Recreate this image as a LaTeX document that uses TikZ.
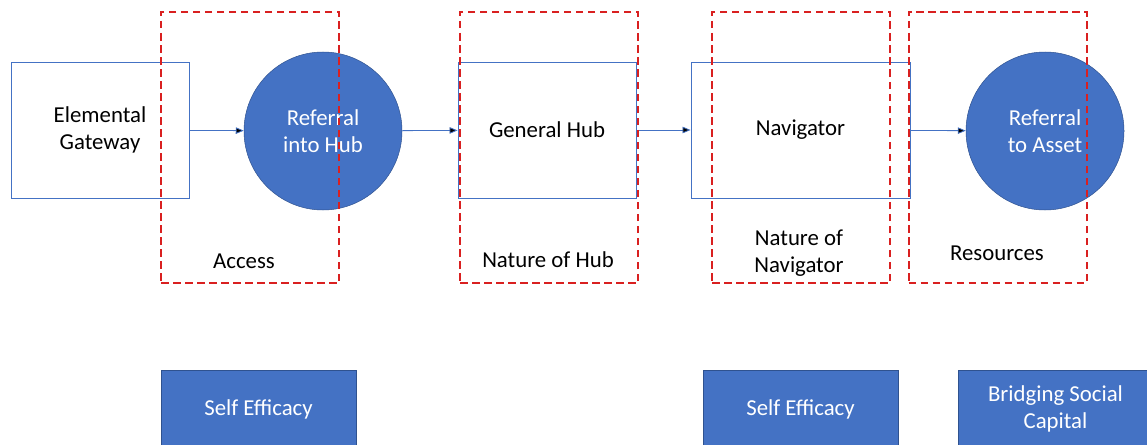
\documentclass[tikz,border=0pt]{standalone}
\usepackage{fontspec}
\setmainfont{Carlito}
\usetikzlibrary{arrows.meta}
\definecolor{hubblue}{HTML}{4472C4}
\definecolor{rimblue}{HTML}{2F528F}
\definecolor{zonered}{HTML}{D92020}
\begin{document}
\begin{tikzpicture}[x=1pt, y=-1pt,
    every node/.style={align=center, inner sep=0pt, font=\fontsize{22.8}{27.5}\selectfont},
    frame/.style={draw=hubblue, line width=0.9pt, minimum height=136pt},
    blob/.style={circle, fill=hubblue, draw=rimblue, line width=0.5pt, minimum size=158pt, text=white},
    zone/.style={draw=zonered, line width=2pt, dash pattern=on 7.5pt off 4.5pt, minimum width=178pt, minimum height=271pt},
    tag/.style={fill=hubblue, draw=rimblue, line width=0.5pt, minimum width=195pt, minimum height=78pt, text=white},
    link/.style={draw=hubblue, line width=0.8pt, -{Triangle[length=8pt, width=6.5pt]}}]
      \clip (0,0) rectangle (1147,444);
      \node (1) at (100,130) [frame, minimum width=178pt] {Elemental\\Gateway};
      \node (2) at (323,131) [blob] {Referral\\into Hub};
      \node (3) at (547,130) [frame, minimum width=178pt] {General Hub};
      \node (4) at (800.5,130) [frame, minimum width=219pt] {Navigator\vphantom{l}};
      \node (5) at (1045,131) [blob] {Referral\\to Asset};
      \foreach \source/\dest in {1/2, 2/3, 3/4, 4/5}
        \path[link] (\source) edge (\dest);
      \node (6) at (250,147.5) [zone] {};
      \node (7) at (549,147.5) [zone] {};
      \node (8) at (801,147.5) [zone] {};
      \node (9) at (997.5,147.5) [zone] {};
      \node (10) at (244,261) {Access};
      \node (11) at (548,260) {Nature of Hub};
      \node (12) at (799,253) {Nature of\\Navigator};
      \node (13) at (997,253) {Resources};
      \node (14) at (258.5,409) [tag] {Self Efficacy};
      \node (15) at (800.5,409) [tag] {Self Efficacy};
      \node (16) at (1055.5,409) [tag] {Bridging Social\\Capital};
\end{tikzpicture}
\end{document}
